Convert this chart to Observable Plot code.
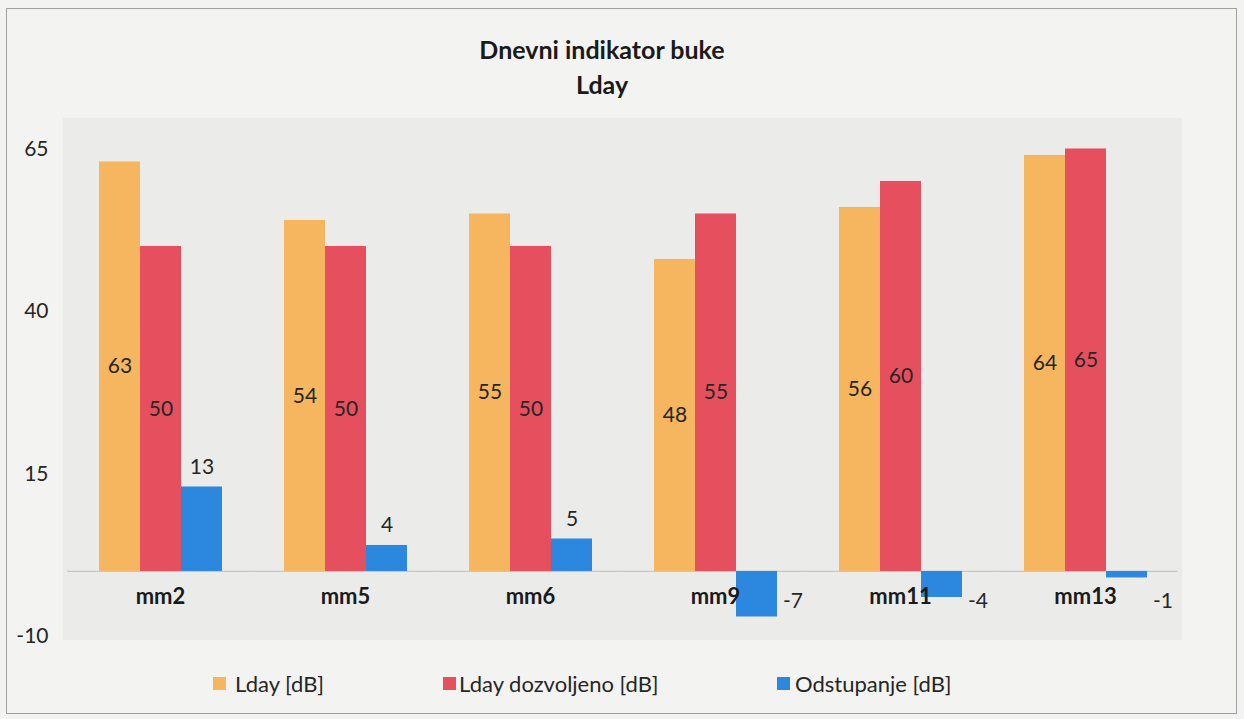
<!DOCTYPE html>
<html>
<head>
<meta charset="utf-8">
<script src="https://cdn.jsdelivr.net/npm/d3@7"></script>
<script src="https://cdn.jsdelivr.net/npm/@observablehq/plot@0.6"></script>
<style>
  html, body { margin: 0; padding: 0; background: #f3f3f2; }
  #page { position: relative; width: 1244px; height: 719px; overflow: hidden; font-family: Lato, "Open Sans", sans-serif; color: #262626; }
  #border { position: absolute; left: 6px; top: 8px; width: 1231px; height: 706px; border: 1px solid #a0a0a0; box-sizing: border-box; }
  #plotbg { position: absolute; left: 63px; top: 118px; width: 1119px; height: 522px; background: #ebebea; }
  #title { position: absolute; left: 0; top: 32px; width: 1204px; text-align: center; font-weight: bold; font-size: 25px; line-height: 35px; color: #1a1a1a; }
  #chart { position: absolute; left: 0; top: 110px; }
  .lg { position: absolute; top: 672px; font-size: 22px; line-height: 24px; white-space: nowrap; }
  .sw { position: absolute; top: 677px; width: 13px; height: 13px; }
</style>
</head>
<body>
<div id="page">
  <div id="border"></div>
  <div id="plotbg"></div>
  <div id="title">Dnevni indikator buke<br>Lday</div>
  <div id="chart"></div>
  <div id="legend"></div>
</div>
<script>
const categories = ["mm2", "mm5", "mm6", "mm9", "mm11", "mm13"];
const seriesNames = ["Lday [dB]", "Lday dozvoljeno [dB]", "Odstupanje [dB]"];
const lday = [63, 54, 55, 48, 56, 64];
const ldayAllowed = [50, 50, 50, 55, 60, 65];
const deviation = [13, 4, 5, -7, -4, -1];
const yTicks = [65, 40, 15, -10];
const colors = ["#f6b55f", "#e6505e", "#2c87df"];

const seriesValues = [lday, ldayAllowed, deviation];
const table = categories.flatMap((c, i) =>
  seriesNames.map((s, k) => ({cat: c, series: s, value: seriesValues[k][i]})));
const inner = table.filter(d => d.series !== seriesNames[2]);
const devPos = table.filter(d => d.series === seriesNames[2] && d.value >= 0);
const devNeg = table.filter(d => d.series === seriesNames[2] && d.value < 0);

const chart = Plot.plot({
  width: 1244,
  height: 540,
  marginLeft: 65,
  marginRight: 64,
  marginTop: 10,
  marginBottom: 10,
  style: {background: "transparent", fontFamily: "Lato, 'Open Sans', sans-serif", fontSize: "21px", color: "#262626", overflow: "visible"},
  fx: {domain: categories, paddingInner: 0.33, paddingOuter: 0.165, axis: null, label: null},
  x: {domain: seriesNames, padding: 0, axis: null},
  y: {domain: [-10.62, 69.38], ticks: yTicks, tickSize: 0, tickPadding: 50, label: null, tickFormat: d => `${d}`},
  color: {domain: seriesNames, range: colors},
  marks: [
    Plot.ruleY([0], {stroke: "#c6c6c6", strokeWidth: 1.2, insetLeft: -30.7, insetRight: -30.7}),
    Plot.barY(table, {fx: "cat", x: "series", y: "value", fill: "series"}),
    Plot.text(inner, {fx: "cat", x: "series", y: d => d.value / 2, text: d => `${d.value}`, fill: "#262626"}),
    Plot.text(devPos, {fx: "cat", x: "series", y: "value", dy: -20, text: d => `${d.value}`, fill: "#262626"}),
    Plot.text(devNeg, {fx: "cat", x: "series", frameAnchor: "bottom", dy: -33, dx: 36, text: d => `${d.value}`, fill: "#262626"}),
    Plot.text(categories, {fx: d => d, text: d => d, frameAnchor: "bottom", dy: -37, fontWeight: "bold", fontSize: 22, fill: "#1a1a1a"})
  ]
});
document.getElementById("chart").appendChild(chart);

const legendPos = [{sw: 213, tx: 235}, {sw: 443, tx: 459}, {sw: 777, tx: 795}];
const legend = document.getElementById("legend");
seriesNames.forEach((s, i) => {
  const sw = document.createElement("div");
  sw.className = "sw";
  sw.style.left = legendPos[i].sw + "px";
  sw.style.background = colors[i];
  legend.appendChild(sw);
  const t = document.createElement("div");
  t.className = "lg";
  t.style.left = legendPos[i].tx + "px";
  t.textContent = s;
  legend.appendChild(t);
});
</script>
</body>
</html>
